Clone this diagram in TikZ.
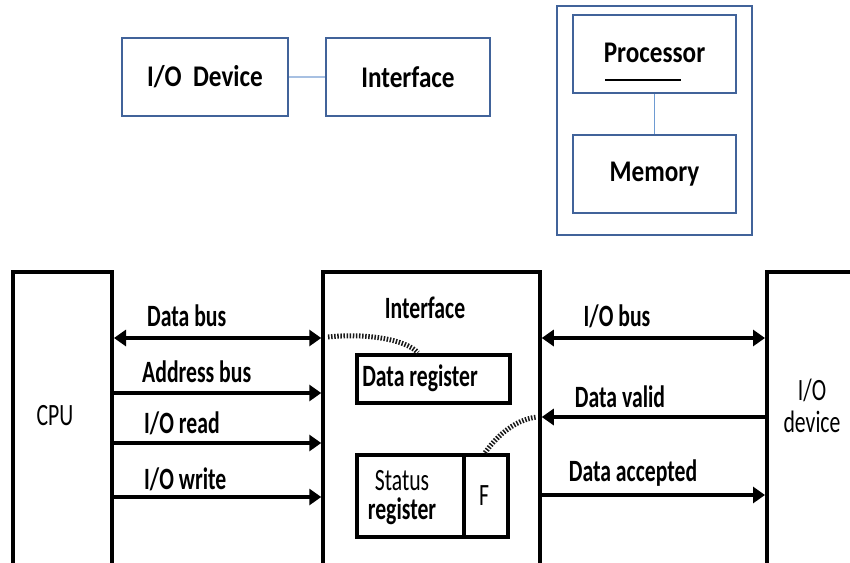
\documentclass[tikz,border=0pt]{standalone}
\usepackage{fontspec}
\setmainfont{Carlito}
\newfontfamily\hdrfont[FakeStretch=0.84]{Carlito}
\newfontfamily\labfont[FakeStretch=0.7]{Carlito}
\usetikzlibrary{arrows.meta}
\definecolor{frameblue}{HTML}{41639A}
\definecolor{linkblue}{HTML}{A7C0E2}
\definecolor{thinblue}{HTML}{6E9BD2}
\tikzset{
  topbox/.style={draw=frameblue, line width=2pt, inner sep=0pt,
    font=\hdrfont\bfseries\fontsize{30}{34}\selectfont},
  blkbox/.style={draw=black, line width=4pt, inner sep=0pt},
  txt/.style={inner sep=0pt, font=\labfont\fontsize{31}{34}\selectfont},
  btxt/.style={inner sep=0pt, font=\labfont\bfseries\fontsize{31}{34}\selectfont},
  tip/.tip={Triangle[length=12pt,width=16pt]},
  bus/.style={line width=4.5pt, -tip},
  dbus/.style={line width=4.5pt, tip-tip},
  hatch/.style={line width=5pt, draw=black!90, dash pattern=on 1.5pt off 1.6pt}
}
\begin{document}
\begin{tikzpicture}[x=1pt,y=-1pt]
\useasboundingbox (0,0) rectangle (850,562);
\clip (0,0) rectangle (850,562);

% ---- upper part: device, interface, processor with memory
\node[topbox, minimum width=166pt, minimum height=78pt] (iodev) at (205,77) {I/O~~Device};
\node[topbox, minimum width=164pt, minimum height=78pt] (iface) at (408,77) {Interface};
\draw[linkblue, line width=2pt] (iodev) -- (iface);

\node[draw=frameblue, line width=2.5pt, minimum width=195pt, minimum height=229pt, inner sep=0pt] (sys) at (654.5,120.5) {};
\node[topbox, minimum width=163pt, minimum height=78pt] (proc) at (654.5,54) {};
\node[topbox, minimum width=163pt, minimum height=78pt] (mem) at (654.5,174) {Memory};
\node[inner sep=0pt, font=\hdrfont\bfseries\fontsize{30}{34}\selectfont] (proctxt) at (654.5,53) {Processor};
\coordinate (ulA) at (605,80);
\coordinate (ulB) at (681,80);
\draw[black, line width=2pt] (ulA) -- (ulB);
\draw[thinblue, line width=1pt] (proc) -- (mem);

% ---- lower part: CPU, interface registers, I/O device
\node[blkbox, minimum width=99pt, minimum height=340pt] (cpu) at (62.5,442) {};
\node[blkbox, line width=3.5pt, minimum width=217pt, minimum height=340pt] (ifc) at (431.5,442) {};
\node[blkbox, minimum width=120pt, minimum height=340pt] (iod) at (827,442) {};

\node[txt] (cputxt) at (55,416) {CPU};
\node[btxt] (ifctxt) at (425,308) {Interface};
\node[txt, align=center] (iodtxt) at (812,406) {I/O\\[-2pt]device};

\node[blkbox, line width=4.5pt, minimum width=153pt, minimum height=48pt] (dreg) at (433.5,379) {};
\node[btxt] (dregtxt) at (420,378) {Data register};
\node[blkbox, line width=4.5pt, minimum width=107pt, minimum height=82pt] (sreg) at (410.5,496) {};
\node[blkbox, line width=4.5pt, minimum width=44pt, minimum height=82pt] (flag) at (486,496) {};
\node[txt] (stattxt) at (402,481) {Status};
\node[btxt] (regtxt) at (402,511) {register};
\node[txt] (ftxt) at (484,496) {F};

% buses between CPU and interface
\draw[dbus] (cpu.east |- 0,338) -- (ifc.west |- 0,338);
\draw[bus] (cpu.east |- 0,393) -- (ifc.west |- 0,393);
\draw[bus] (cpu.east |- 0,443) -- (ifc.west |- 0,443);
\draw[bus] (cpu.east |- 0,497) -- (ifc.west |- 0,497);
\node[btxt, anchor=west] (l1) at (147,316) {Data bus};
\node[btxt, anchor=west] (l2) at (142,372) {Address bus};
\node[btxt, anchor=west] (l3) at (144,423) {I/O read};
\node[btxt, anchor=west] (l4) at (144,479) {I/O write};

% lines between interface and I/O device
\draw[dbus] (ifc.east |- 0,338) -- (iod.west |- 0,338);
\draw[bus] (iod.west |- 0,417) -- (ifc.east |- 0,417);
\draw[bus] (ifc.east |- 0,495) -- (iod.west |- 0,495);
\node[btxt] (r1) at (617,316) {I/O bus};
\node[btxt] (r2) at (620,397) {Data valid};
\node[btxt] (r3) at (633,473) {Data accepted};

% hatched links into the registers
\coordinate (hA) at (328,337);
\coordinate (hB) at (537,417);
\draw[hatch] (hA) .. controls (365,333) and (405,339) .. (dreg.north -| 418,0);
\draw[hatch] (flag.north -| 485,0) .. controls (494,440) and (512,420) .. (hB);
\end{tikzpicture}
\end{document}
